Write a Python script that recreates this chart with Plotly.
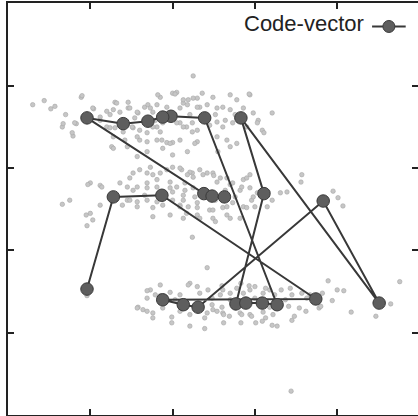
import plotly.graph_objects as go

# ---- data (arbitrary units, axis ticks at 1..4, no labels) ----
# code-vector path, in the order the path visits them
cv_x = [0.96, 1.28, 1.87, 3.74, 1.88, 2.13, 2.31, 3.83, 4.51, 2.83, 3.11, 2.77,
        2.89, 3.09, 3.27, 2.39, 1.98, 1.88, 1.70, 1.40, 0.96, 2.38, 2.48, 2.63]
cv_y = [1.53, 2.65, 2.67, 1.41, 1.40, 1.34, 1.31, 2.60, 1.36, 3.61, 2.69, 1.35,
        1.36, 1.36, 1.34, 3.61, 3.63, 3.62, 3.57, 3.54, 3.61, 2.69, 2.66, 2.65]

# upper cluster of samples
top_x = [2.25, 0.30, 0.52, 0.57, 0.89, 0.70, 0.66, 0.67, 0.79, 0.83, 1.04, 1.20,
         1.24, 1.30, 1.46, 1.46, 1.12, 1.20, 1.30, 1.40, 1.52, 1.58, 1.66, 1.70,
         1.76, 1.81, 1.88, 1.85, 2.00, 2.05, 2.13, 2.19, 2.30, 2.33, 2.09, 2.17,
         2.24, 1.69, 1.60, 1.81, 1.93, 2.00, 2.30, 1.45, 1.26, 1.57, 2.00, 0.90,
         1.82, 2.03, 2.13, 2.25, 2.36, 2.49, 2.70, 2.78, 2.94, 1.32, 1.03, 1.28,
         1.48, 1.57, 1.73, 1.81, 1.93, 2.09, 2.18, 2.30, 2.42, 2.54, 2.61, 2.70,
         2.86, 2.98, 3.04, 0.81, 1.12, 1.24, 1.51, 1.60, 1.76, 1.85, 2.05, 2.13,
         2.24, 2.30, 2.54, 2.61, 2.73, 2.90, 3.03, 3.09, 0.78, 1.28, 1.42, 1.57,
         1.69, 1.87, 1.97, 2.09, 2.27, 2.54, 2.66, 2.70, 1.28, 1.69, 2.18, 1.88,
         2.55, 2.78, 2.93, 3.21, 3.11, 0.44, 1.54, 1.79, 2.03, 2.21, 2.52, 2.64,
         1.66, 1.36, 2.45, 2.76]
top_y = [4.12, 3.77, 3.72, 3.75, 3.86, 3.65, 3.50, 3.54, 3.39, 3.54, 3.72, 3.69,
         3.65, 3.80, 3.80, 3.73, 3.62, 3.50, 3.49, 3.44, 3.49, 3.67, 3.74, 3.77,
         3.68, 3.50, 3.55, 3.86, 3.91, 3.92, 3.79, 3.83, 3.85, 3.74, 3.55, 3.50,
         3.44, 3.43, 3.34, 3.34, 3.31, 3.31, 3.32, 3.26, 3.26, 3.14, 3.16, 3.88,
         3.89, 3.90, 3.83, 3.85, 3.91, 3.86, 3.89, 3.83, 3.89, 3.79, 3.73, 3.71,
         3.73, 3.68, 3.73, 3.77, 3.74, 3.73, 3.77, 3.74, 3.77, 3.73, 3.74, 3.71,
         3.73, 3.67, 3.58, 3.55, 3.58, 3.49, 3.50, 3.46, 3.50, 3.44, 3.55, 3.50,
         3.55, 3.46, 3.56, 3.50, 3.55, 3.50, 3.55, 3.46, 3.43, 3.38, 3.34, 3.38,
         3.32, 3.34, 3.30, 3.34, 3.30, 3.38, 3.34, 3.26, 3.24, 3.20, 3.20, 3.24,
         3.20, 3.30, 3.90, 3.67, 3.43, 3.82, 3.61, 3.58, 3.65, 3.65, 3.65, 3.58,
         3.55, 3.68, 3.52, 3.65]

# middle cluster of samples
mid_x = [1.00, 1.12, 0.66, 1.52, 1.60, 1.69, 1.76, 1.81, 1.93, 2.00, 2.11, 2.24,
         2.33, 2.42, 1.45, 1.52, 1.69, 1.81, 2.00, 2.13, 2.25, 2.33, 1.45, 1.57,
         1.69, 1.81, 1.73, 1.85, 2.09, 2.21, 2.37, 2.49, 2.58, 2.86, 2.94, 1.48,
         1.36, 1.14, 0.97, 1.57, 1.69, 1.97, 2.05, 2.15, 2.70, 2.82, 3.03, 1.12,
         1.00, 1.39, 1.48, 1.57, 1.76, 1.88, 2.00, 2.09, 2.19, 2.30, 2.45, 2.61,
         2.73, 2.86, 2.96, 1.76, 1.97, 2.13, 2.30, 2.49, 2.66, 2.82, 2.18, 2.25,
         2.50, 2.54, 2.66, 2.73, 2.90, 2.84, 2.94, 2.98, 3.16, 3.21, 3.31, 3.39,
         3.15, 3.00, 2.90, 2.66, 2.49, 2.30, 2.13, 2.09, 2.33, 2.70, 2.52, 2.17,
         0.95, 1.03, 0.96, 2.24, 2.42, 3.56, 3.95, 4.01, 4.07, 3.57, 0.75, 1.91,
         2.15, 2.27, 2.52, 2.64, 2.76, 1.66, 1.97]
mid_y = [2.82, 2.79, 2.56, 2.94, 2.98, 2.94, 2.92, 2.86, 2.98, 3.01, 2.98, 2.94,
         2.98, 2.94, 2.77, 2.73, 2.76, 2.77, 2.71, 2.67, 2.76, 2.70, 2.61, 2.59,
         2.61, 2.59, 3.01, 2.94, 3.00, 2.95, 2.92, 2.94, 2.88, 2.86, 2.92, 2.88,
         2.82, 2.77, 2.80, 2.77, 2.82, 2.83, 2.77, 2.82, 2.80, 2.73, 2.70, 2.55,
         2.45, 2.55, 2.61, 2.53, 2.52, 2.55, 2.61, 2.55, 2.53, 2.58, 2.49, 2.52,
         2.58, 2.53, 2.61, 2.41, 2.43, 2.39, 2.43, 2.39, 2.43, 2.39, 2.92, 2.89,
         2.91, 2.83, 2.88, 2.82, 2.88, 2.77, 2.76, 2.65, 2.71, 2.61, 2.70, 2.71,
         2.53, 2.53, 2.52, 2.53, 2.49, 2.52, 2.61, 2.53, 2.39, 2.39, 2.35, 2.45,
         2.43, 2.37, 2.30, 2.16, 1.79, 2.83, 2.72, 2.64, 2.54, 2.92, 2.61, 2.67,
         2.73, 2.65, 2.61, 2.73, 2.65, 2.67, 2.76]

# lower cluster of samples
low_x = [1.73, 1.79, 1.69, 1.58, 1.64, 1.76, 1.99, 2.21, 2.30, 2.33, 2.43, 1.97,
         2.09, 2.48, 2.58, 2.61, 2.70, 2.78, 2.86, 2.94, 3.00, 3.10, 3.18, 3.24,
         2.49, 2.61, 2.82, 2.94, 3.10, 3.22, 1.88, 2.42, 2.60, 2.60, 2.83, 2.93,
         3.13, 3.32, 3.45, 3.57, 3.63, 2.48, 2.54, 2.62, 2.69, 2.84, 2.96, 3.13,
         3.41, 3.54, 3.62, 3.48, 2.62, 2.83, 3.01, 3.09, 3.21, 3.27, 3.45, 3.78,
         3.82, 3.80, 3.89, 4.00, 4.08, 3.94, 4.17, 4.65, 4.76, 4.47, 3.44, 1.69,
         1.57, 1.69, 1.76, 1.99, 2.21, 2.39, 1.85, 2.19, 2.09, 2.21, 0.96, 2.70,
         3.00, 3.18, 3.37, 2.39, 3.43, 3.67, 2.03, 1.85, 2.76]
low_y = [1.52, 1.46, 1.42, 1.31, 1.28, 1.24, 1.19, 1.60, 1.56, 1.48, 1.52, 1.49,
         1.46, 1.42, 1.46, 1.52, 1.48, 1.54, 1.48, 1.52, 1.56, 1.48, 1.52, 1.46,
         1.28, 1.24, 1.24, 1.22, 1.25, 1.22, 1.30, 1.24, 1.31, 1.57, 1.60, 1.57,
         1.54, 1.52, 1.46, 1.48, 1.42, 1.34, 1.26, 1.22, 1.20, 1.22, 1.20, 1.18,
         1.32, 1.30, 1.26, 1.20, 1.12, 1.12, 1.12, 1.14, 1.09, 1.08, 1.15, 1.30,
         1.48, 1.32, 1.63, 1.52, 1.51, 1.39, 1.25, 1.35, 1.62, 1.20, 0.29, 1.51,
         1.30, 1.26, 1.18, 1.12, 1.08, 1.05, 1.58, 1.58, 1.26, 1.22, 1.45, 1.40,
         1.42, 1.31, 1.40, 1.18, 1.54, 1.46, 1.40, 1.45, 1.30]

sample_x = top_x + mid_x + low_x
sample_y = top_y + mid_y + low_y

tick_vals = [1, 2, 3, 4]
legend_label = "Code-vector"

fig = go.Figure()

fig.add_trace(go.Scatter(
    x=sample_x, y=sample_y, mode="markers", showlegend=False, hoverinfo="skip",
    marker=dict(size=4.5, color="#c6c6c6", line=dict(color="#a6a6a6", width=0.6)),
))

fig.add_trace(go.Scatter(
    x=cv_x, y=cv_y, mode="lines+markers", name=legend_label, showlegend=False,
    line=dict(color="#383838", width=2),
    marker=dict(size=12.5, color="#5e5e5e", line=dict(color="#3a3a3a", width=1)),
))

# dummy trace for right-side ticks
fig.add_trace(go.Scatter(x=[None], y=[None], yaxis="y2", showlegend=False))

axis_common = dict(
    tickvals=tick_vals, showticklabels=False, ticks="inside", ticklen=6,
    tickwidth=1.5, tickcolor="#222222", showgrid=False, zeroline=False,
)

fig.update_layout(
    width=418, height=416,
    margin=dict(l=8, r=0, t=3, b=1),
    paper_bgcolor="white", plot_bgcolor="white",
    xaxis=dict(range=[0, 4.982], showline=True, linecolor="#222222", linewidth=2,
               mirror="ticks", **axis_common),
    yaxis=dict(range=[0, 5.006], showline=True, linecolor="#222222", linewidth=2,
               mirror=False, **axis_common),
    yaxis2=dict(range=[0, 5.006], overlaying="y", side="right", showline=False,
                **axis_common),
)

# legend drawn by hand: text, then line with marker to its right
fig.add_annotation(
    xref="paper", yref="paper", x=0.873, y=0.950, xanchor="right", yanchor="middle",
    text=legend_label, showarrow=False,
    font=dict(family="Liberation Sans, Arial, sans-serif", size=22, color="#222222"),
)
fig.add_shape(type="line", xref="paper", yref="paper", x0=0.888, x1=0.970,
              y0=0.943, y1=0.943, line=dict(color="#383838", width=2))
fig.add_shape(type="circle", xref="paper", yref="paper", xsizemode="pixel",
              ysizemode="pixel", xanchor=0.929, yanchor=0.943,
              x0=-6, x1=6, y0=-6, y1=6,
              fillcolor="#5e5e5e", line=dict(color="#3a3a3a", width=1))

fig.write_html("out.html")
